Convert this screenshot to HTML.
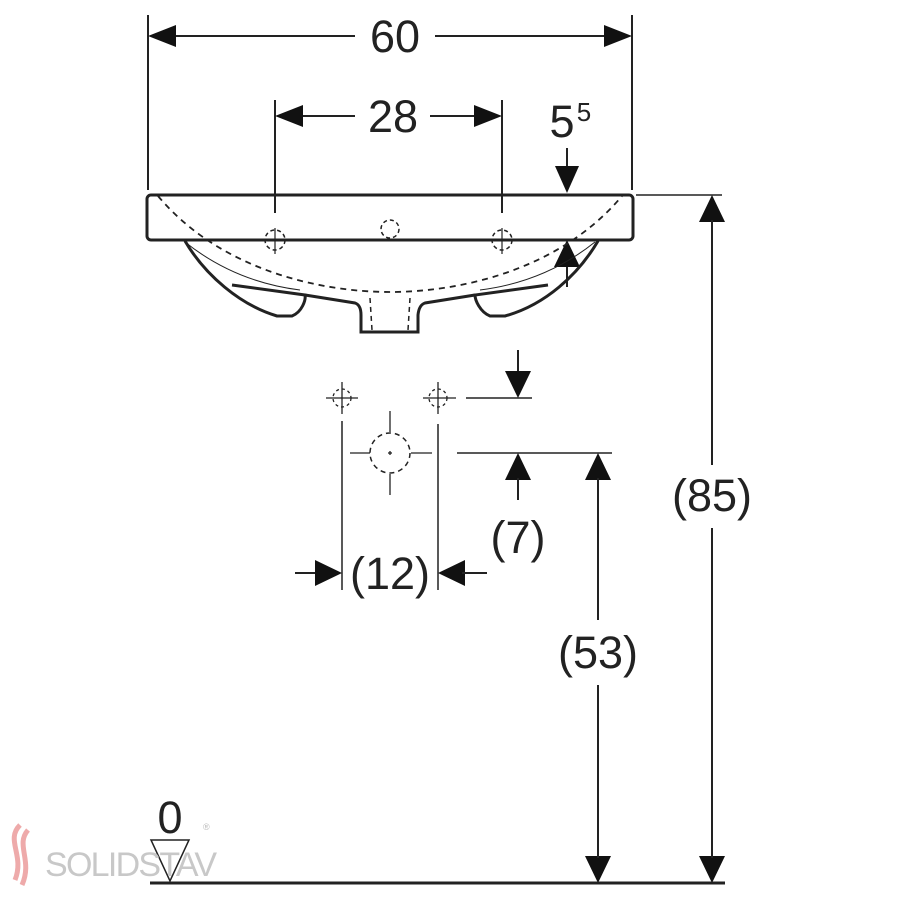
<!DOCTYPE html>
<html><head><style>html,body{margin:0;padding:0;background:#fff}svg{display:block}text{font-family:"Liberation Sans",sans-serif;fill:#222}</style></head><body>
<svg width="900" height="900" viewBox="0 0 900 900" xmlns="http://www.w3.org/2000/svg">
<g stroke="#222" fill="none" stroke-width="2">
<line x1="148" y1="15" x2="148" y2="190"/>
<line x1="632" y1="15" x2="632" y2="190"/>
<line x1="275" y1="100" x2="275" y2="213"/>
<line x1="502" y1="100" x2="502" y2="213"/>
<line x1="175" y1="36" x2="355" y2="36"/><line x1="435" y1="36" x2="605" y2="36"/>
<path d="M148,36l28,-11v22z M632,36l-28,-11v22z" fill="#111" stroke="none"/>
<line x1="300" y1="116" x2="355" y2="116"/><line x1="430" y1="116" x2="478" y2="116"/>
<path d="M275,116l28,-11v22z M502,116l-28,-11v22z" fill="#111" stroke="none"/>
<line x1="567" y1="148" x2="567" y2="170"/>
<path d="M567,193l-12,-27h24z" fill="#111" stroke="none"/>
<line x1="567" y1="265" x2="567" y2="287"/>
<path d="M567,240l-13,27h26z" fill="#111" stroke="none"/>
<line x1="636" y1="195" x2="722" y2="195" stroke-width="1.5"/>
<rect x="147" y="195" width="486" height="45" rx="4" stroke-width="3"/>
<path d="M185,241 C205,275 240,305 277,316 L292,316 C302,312 306,300 305,295 L232,285" stroke-width="3"/>
<path d="M305,295 L355,303 Q361,305 361,315 L361,332 L418,332 L418,315 Q419,305 425,303 L475,295" stroke-width="3"/>
<path d="M598,241 C578,275 545,305 505,316 L490,316 C480,312 475,300 475,295 L548,285" stroke-width="3"/>
<path d="M185,242 C220,270 260,285 300,290" stroke-width="1"/>
<path d="M595,242 C560,270 520,285 480,290" stroke-width="1"/>
<path d="M158,196 C220,270 320,292 390,292 C460,292 560,270 622,196" stroke-dasharray="6,5" stroke-width="1.8"/>
<line x1="370" y1="298" x2="372" y2="330" stroke-dasharray="5,4" stroke-width="1.5"/>
<line x1="410" y1="298" x2="408" y2="330" stroke-dasharray="5,4" stroke-width="1.5"/>
<circle cx="275" cy="240" r="10" stroke-dasharray="4,3" stroke-width="1.5"/>
<line x1="275" y1="228" x2="275" y2="254" stroke-width="1.2"/><line x1="266" y1="240" x2="284" y2="240" stroke-width="1.2"/>
<circle cx="502" cy="240" r="10" stroke-dasharray="4,3" stroke-width="1.5"/>
<line x1="502" y1="228" x2="502" y2="254" stroke-width="1.2"/><line x1="493" y1="240" x2="511" y2="240" stroke-width="1.2"/>
<circle cx="390" cy="229" r="9" stroke-dasharray="4,3" stroke-width="1.5"/>
<circle cx="342" cy="398" r="9" stroke-dasharray="3,3" stroke-width="1.3"/>
<line x1="342" y1="382" x2="342" y2="414" stroke-width="1.3"/><line x1="326" y1="398" x2="358" y2="398" stroke-width="1.3"/>
<circle cx="438" cy="398" r="9" stroke-dasharray="3,3" stroke-width="1.3"/>
<line x1="438" y1="382" x2="438" y2="414" stroke-width="1.3"/><line x1="423" y1="398" x2="456" y2="398" stroke-width="1.3"/>
<line x1="342" y1="421" x2="342" y2="590" stroke-width="1.5"/>
<line x1="438" y1="424" x2="438" y2="590" stroke-width="1.5"/>
<circle cx="390" cy="453" r="20" stroke-dasharray="5,4" stroke-width="1.5"/>
<line x1="390" y1="411" x2="390" y2="432" stroke-width="1.3"/><line x1="390" y1="474" x2="390" y2="495" stroke-width="1.3"/>
<line x1="350" y1="453" x2="370" y2="453" stroke-width="1.3"/><line x1="411" y1="453" x2="432" y2="453" stroke-width="1.3"/>
<line x1="388" y1="453" x2="392" y2="453" stroke-width="1.3"/><line x1="390" y1="451" x2="390" y2="455" stroke-width="1.3"/>
<line x1="466" y1="398" x2="532" y2="398" stroke-width="1.5"/>
<line x1="518" y1="350" x2="518" y2="372"/>
<path d="M518,398l-13,-27h26z" fill="#111" stroke="none"/>
<line x1="457" y1="453" x2="612" y2="453" stroke-width="1.5"/>
<path d="M518,453l-13,27h26z" fill="#111" stroke="none"/>
<line x1="518" y1="478" x2="518" y2="500"/>
<path d="M598,453l-13,27h26z M598,883l-13,-27h26z" fill="#111" stroke="none"/>
<line x1="598" y1="478" x2="598" y2="620"/><line x1="598" y1="685" x2="598" y2="858"/>
<path d="M712,195l-13,27h26z M712,883l-13,-27h26z" fill="#111" stroke="none"/>
<line x1="712" y1="220" x2="712" y2="465"/><line x1="712" y1="528" x2="712" y2="858"/>
<line x1="295" y1="573" x2="318" y2="573"/>
<path d="M342,573l-27,-13v26z M438,573l27,-13v26z" fill="#111" stroke="none"/>
<line x1="462" y1="573" x2="487" y2="573"/>
<line x1="150" y1="883" x2="725" y2="883" stroke-width="3"/>
<path d="M151,840 L189,840 L170,881 Z" stroke-width="1.5"/>
</g>
<text x="45" y="876" font-size="34" style="fill:#c8c8c8" textLength="172" lengthAdjust="spacing">SOLIDSTAV</text>
<text x="203" y="830" font-size="9" style="fill:#bbb">®</text>
<path d="M20,825 C5,840 25,855 15,880 M28,830 C15,845 33,860 22,885" stroke="#eaa" stroke-width="5" fill="none"/>
<g font-size="45" text-anchor="middle">
<text x="395" y="52">60</text>
<text x="393" y="132">28</text>
<text x="562" y="137">5</text>
<text x="584" y="121" font-size="26">5</text>
<text x="518" y="553">(7)</text>
<text x="390" y="589">(12)</text>
<text x="598" y="668">(53)</text>
<text x="712" y="511">(85)</text>
<text x="170" y="833">0</text>
</g>
</svg>
</body></html>
